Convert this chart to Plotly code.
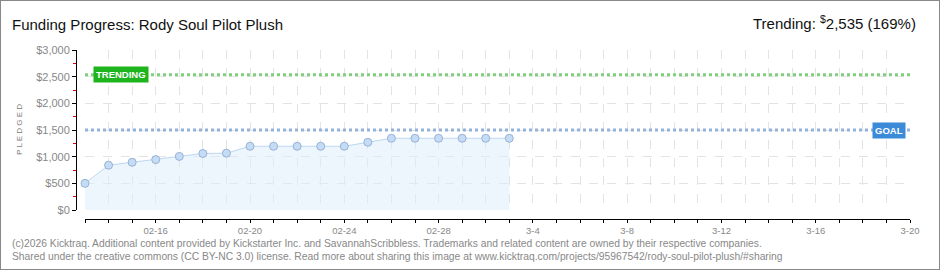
import plotly.graph_objects as go

# ---- data ----
dates = ["2026-02-13", "2026-02-14", "2026-02-15", "2026-02-16", "2026-02-17",
         "2026-02-18", "2026-02-19", "2026-02-20", "2026-02-21", "2026-02-22",
         "2026-02-23", "2026-02-24", "2026-02-25", "2026-02-26", "2026-02-27",
         "2026-02-28", "2026-03-01", "2026-03-02", "2026-03-03"]
pledged = [500, 840, 895, 945, 1005, 1060, 1065, 1195, 1195, 1195,
           1195, 1195, 1270, 1345, 1345, 1345, 1345, 1345, 1345]
goal = 1500
trending = 2535
x_start, x_end = "2026-02-13", "2026-03-20"
tick_dates = ["2026-02-16", "2026-02-20", "2026-02-24", "2026-02-28", "2026-03-04",
              "2026-03-08", "2026-03-12", "2026-03-16", "2026-03-20"]
tick_labels = ["02-16", "02-20", "02-24", "02-28", "3-4", "3-8", "3-12", "3-16", "3-20"]
y_ticks = [0, 500, 1000, 1500, 2000, 2500, 3000]
y_labels = ["$0", "$500", "$1,000", "$1,500", "$2,000", "$2,500", "$3,000"]

W, H = 940, 270
FONT = "Liberation Sans, DejaVu Sans"
px = lambda x: x / W
py = lambda y: 1 - y / H

fig = go.Figure()

# goal & trending lines
fig.add_trace(go.Scatter(x=[x_start, x_end], y=[trending, trending], mode="lines",
                         line=dict(color="#7fcf7f", width=3, dash="dot"),
                         hoverinfo="skip", showlegend=False))
fig.add_trace(go.Scatter(x=[x_start, x_end], y=[goal, goal], mode="lines",
                         line=dict(color="#93b3dc", width=3, dash="dot"),
                         hoverinfo="skip", showlegend=False))

fig.add_trace(go.Scatter(x=dates, y=pledged, mode="lines+markers",
                         fill="tozeroy", fillcolor="rgba(222,236,252,0.55)",
                         line=dict(color="#bcd7f3", width=1),
                         marker=dict(size=8, color="#c5dcf6",
                                     line=dict(color="#98b2d2", width=1)),
                         cliponaxis=False, showlegend=False))

fig.update_layout(
    width=W, height=H,
    margin=dict(l=0, r=0, t=0, b=0),
    paper_bgcolor="white", plot_bgcolor="white",
    font=dict(family=FONT, color="#777"),
    xaxis=dict(type="date", range=[x_start, x_end],
               domain=[px(85), px(910)], anchor="free", position=py(219),
               tickvals=tick_dates, ticktext=tick_labels,
               showgrid=True, gridcolor="#e3e3e3", griddash="dash", gridwidth=1,
               ticks="outside", ticklen=3, tickcolor="#000", tickwidth=1,
               showline=True, linecolor="#000", linewidth=1,
               tickfont=dict(size=9.5, color="#888", family=FONT),
               minor=dict(dtick=86400000, tick0="2026-02-13", ticks="outside",
                          ticklen=3, tickcolor="#000", showgrid=True,
                          gridcolor="#e3e3e3", griddash="dash"),
               zeroline=False, automargin=False, fixedrange=True),
    yaxis=dict(range=[0, 3000], domain=[py(210), py(50)],
               anchor="free", position=px(76),
               tickvals=y_ticks, ticktext=y_labels,
               showgrid=True, gridcolor="#e3e3e3", griddash="dash",
               ticks="outside", ticklen=4, tickcolor="#000",
               showline=True, linecolor="#000", linewidth=1,
               tickfont=dict(size=11, color="#888", family=FONT),
               minor=dict(dtick=250, ticks="outside", ticklen=3, tickcolor="#e00000",
                          showgrid=False),
               zeroline=False, automargin=False, fixedrange=True),
)

ann = []
ann.append(dict(text="Funding Progress: Rody Soul Pilot Plush", xref="paper", yref="paper",
                x=px(10), y=py(24), xanchor="left", yanchor="middle", showarrow=False,
                font=dict(size=15, color="#111", family=FONT)))
ann.append(dict(text="Trending: <sup>$</sup>2,535 (169%)", xref="paper", yref="paper",
                x=px(918), y=py(22), xanchor="right", yanchor="middle", showarrow=False,
                font=dict(size=15, color="#111", family=FONT)))
ann.append(dict(text="P L E D G E D", xref="paper", yref="paper", textangle=-90,
                x=px(20), y=py(130), xanchor="center", yanchor="middle", showarrow=False,
                font=dict(size=8, color="#777", family=FONT)))
ann.append(dict(text="<b>TRENDING</b>", xref="paper", yref="y", x=px(93), y=trending,
                xanchor="left", yanchor="middle", showarrow=False,
                bgcolor="#1eb41e", borderpad=2, font=dict(size=9.5, color="white", family=FONT)))
ann.append(dict(text="<b>GOAL</b>", xref="paper", yref="y", x=px(872), y=goal,
                xanchor="left", yanchor="middle", showarrow=False,
                bgcolor="#3b8bd9", borderpad=2, font=dict(size=9.5, color="white", family=FONT)))
ann.append(dict(text="(c)2026 Kicktraq. Additional content provided by Kickstarter Inc. and SavannahScribbless. Trademarks and related content are owned by their respective companies.",
                xref="paper", yref="paper", x=px(10), y=py(243), xanchor="left", yanchor="middle",
                showarrow=False, font=dict(size=10.3, color="#888", family=FONT)))
ann.append(dict(text="Shared under the creative commons (CC BY-NC 3.0) license. Read more about sharing this image at www.kicktraq.com/projects/95967542/rody-soul-pilot-plush/#sharing",
                xref="paper", yref="paper", x=px(10), y=py(256), xanchor="left", yanchor="middle",
                showarrow=False, font=dict(size=10.3, color="#888", family=FONT)))
fig.update_layout(annotations=ann)

fig.add_shape(type="rect", xref="paper", yref="paper", x0=0, y0=0, x1=1, y1=1,
              line=dict(color="#888", width=2))

fig.write_html("out.html")
